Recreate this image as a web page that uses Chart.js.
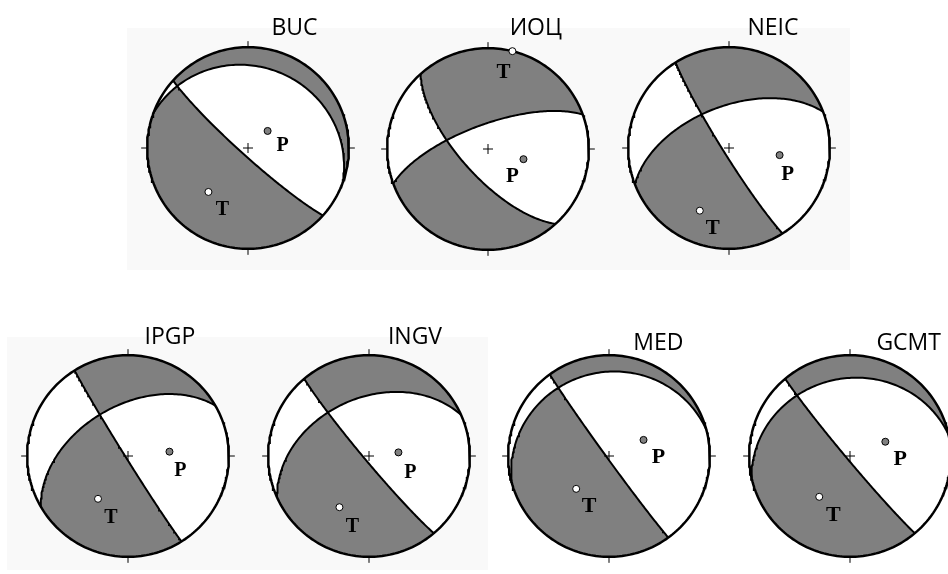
<!DOCTYPE html>
<html>
<head>
<meta charset="utf-8">
<script src="https://cdn.jsdelivr.net/npm/chart.js@4.4.1/dist/chart.umd.min.js"></script>
<style>
  html, body { margin: 0; padding: 0; background: #fff; overflow: hidden; }
  body { width: 948px; height: 574px; position: relative; }
  .panel { position: absolute; background: #f9f9f9; }
  .ball { position: absolute; }
  .title {
    position: absolute; transform: translate(-50%, -50%);
    font-family: "Open Sans", sans-serif; font-size: 23px; line-height: 1;
    color: #000; white-space: nowrap;
  }
</style>
</head>
<body>
<div class="panel" style="left:127px;top:28px;width:723px;height:242px"></div>
<div class="panel" style="left:7px;top:337px;width:481px;height:233px"></div>
<script>
// --- Mécanismes au foyer par agence ---
const agencies = ['BUC', 'ИОЦ', 'NEIC', 'IPGP', 'INGV', 'MED', 'GCMT'];
// plan nodal 1 (raide) et plan nodal 2, azimut / pendage en degrés
const strike1 = [132, 138, 148, 148, 140, 144, 140];
const dip1    = [84, 68, 85, 88, 86, 88, 87];
const strike2 = [290, 250, 249, 240, 246, 255, 258];
const dip2    = [20, 70, 56, 49, 42, 18, 24];
// axes P et T : azimut / plongement
const pTrend  = [49, 106, 98, 84, 83, 65, 68];
const pPlunge = [69, 60, 48, 56, 66, 59, 59];
const tTrend  = [222, 14, 205, 215, 210, 225, 217];
const tPlunge = [41, 0, 32, 47, 41, 52, 48];

// --- Mise en page (centres des sphères, titres, décalage des lettres P/T) ---
const layout = [
  {cx: 248, cy: 148, tx: 294.5, ty: 26,  font: 20, pOff: [15, 13],  tOff: [14, 16]},
  {cx: 488, cy: 149, tx: 535.8, ty: 26,  font: 21, pOff: [-11, 16], tOff: [-9, 20]},
  {cx: 729, cy: 148, tx: 773,   ty: 26,  font: 21, pOff: [8, 18],   tOff: [13, 16]},
  {cx: 128, cy: 456, tx: 170,   ty: 335, font: 20, pOff: [11, 18],  tOff: [13, 18]},
  {cx: 369, cy: 456, tx: 415,   ty: 335, font: 20, pOff: [12, 19],  tOff: [13, 18]},
  {cx: 609, cy: 456, tx: 658.3, ty: 341, font: 22, pOff: [15, 16],  tOff: [13, 16]},
  {cx: 850, cy: 456, tx: 908.7, ty: 341, font: 22, pOff: [15, 16],  tOff: [14, 17]}
];
const SIZE = 242;      // canvas en px
const LIM = 1.2;       // rayon unité = SIZE / (2 * LIM)
const GRAY = '#808080';

// --- Géométrie (hémisphère inférieur, projection équivalente de Schmidt) ---
const rad = d => d * Math.PI / 180;
const dot = (a, b) => a[0] * b[0] + a[1] * b[1] + a[2] * b[2];
const cross = (a, b) => [a[1] * b[2] - a[2] * b[1], a[2] * b[0] - a[0] * b[2], a[0] * b[1] - a[1] * b[0]];

function plane(strike, dip) {
  const s = rad(strike), d = rad(dip);
  const sv = [Math.cos(s), Math.sin(s), 0];
  const dv = [-Math.sin(s) * Math.cos(d), Math.cos(s) * Math.cos(d), Math.sin(d)];
  return {strike, sv, dv, n: cross(sv, dv)};
}

// v = [nord, est, bas]
function project(v) {
  let [n, e, dn] = v;
  if (dn < 0) { n = -n; e = -e; dn = -dn; }
  const h = Math.hypot(n, e);
  if (h < 1e-9) return {x: 0, y: 0};
  const r = Math.sqrt(Math.max(0, 1 - dn));
  return {x: r * e / h, y: r * n / h};
}

function axisPoint(trend, plunge) {
  const t = rad(trend), p = rad(plunge);
  return project([Math.cos(p) * Math.cos(t), Math.cos(p) * Math.sin(t), Math.sin(p)]);
}

function arcPoints(p, t0, t1) {
  const n = Math.max(2, Math.ceil(Math.abs(t1 - t0) / Math.PI * 120));
  const pts = [];
  for (let i = 0; i <= n; i++) {
    const t = t0 + (t1 - t0) * i / n;
    const c = Math.cos(t), s = Math.sin(t);
    pts.push(project([c * p.sv[0] + s * p.dv[0], c * p.sv[1] + s * p.dv[1], c * p.sv[2] + s * p.dv[2]]));
  }
  return pts;
}

function circlePoints(az0, az1) {
  const n = Math.max(2, Math.ceil(Math.abs(az1 - az0) / 1.5));
  const pts = [];
  for (let i = 0; i <= n; i++) {
    const a = rad(az0 + (az1 - az0) * i / n);
    pts.push({x: Math.sin(a), y: Math.cos(a)});
  }
  return pts;
}

// paramètre t sur le plan X où il coupe le plan Y
function crossingT(pX, pY) {
  let t = Math.atan2(-dot(pX.sv, pY.n), dot(pX.dv, pY.n));
  if (t < 0) t += Math.PI;
  return t;
}

function inside(pt, poly) {
  let c = false;
  for (let i = 0, j = poly.length - 1; i < poly.length; j = i++) {
    const a = poly[i], b = poly[j];
    if ((a.y > pt.y) !== (b.y > pt.y) && pt.x < (b.x - a.x) * (pt.y - a.y) / (b.y - a.y) + a.x) c = !c;
  }
  return c;
}

// les 4 quadrants délimités par les deux plans
function quadrants(pA, pB) {
  const tA = crossingT(pA, pB), tB = crossingT(pB, pA);
  const norm = a => ((a % 360) + 360) % 360;
  const ends = [
    {az: norm(pA.strike), p: pA, t: 0, tx: tA},
    {az: norm(pA.strike + 180), p: pA, t: Math.PI, tx: tA},
    {az: norm(pB.strike), p: pB, t: 0, tx: tB},
    {az: norm(pB.strike + 180), p: pB, t: Math.PI, tx: tB}
  ].sort((a, b) => a.az - b.az);
  const regions = [];
  for (let i = 0; i < 4; i++) {
    const e0 = ends[i], e1 = ends[(i + 1) % 4];
    let az1 = e1.az;
    if (az1 <= e0.az) az1 += 360;
    regions.push([
      ...arcPoints(e0.p, e0.tx, e0.t),
      ...circlePoints(e0.az, az1),
      ...arcPoints(e1.p, e1.t, e1.tx)
    ]);
  }
  return regions;
}

// --- Plugin : croix centrale, repères N/E/S/W et lettres P/T ---
const frame = {
  id: 'frame',
  afterDatasetsDraw(chart, args, opts) {
    const {ctx, scales: {x, y}} = chart;
    const cx = x.getPixelForValue(0), cy = y.getPixelForValue(0);
    const r = x.getPixelForValue(1) - cx;
    ctx.save();
    ctx.strokeStyle = '#000';
    ctx.lineWidth = 1;
    ctx.beginPath();
    ctx.moveTo(cx - 5, cy); ctx.lineTo(cx + 5, cy);
    ctx.moveTo(cx, cy - 5); ctx.lineTo(cx, cy + 5);
    ctx.moveTo(cx, cy - r); ctx.lineTo(cx, cy - r - 6);
    ctx.moveTo(cx, cy + r); ctx.lineTo(cx, cy + r + 6);
    ctx.moveTo(cx - r, cy); ctx.lineTo(cx - r - 6, cy);
    ctx.moveTo(cx + r, cy); ctx.lineTo(cx + r + 6, cy);
    ctx.stroke();

    const meta = chart.getDatasetMeta(opts.markerIndex);
    ctx.fillStyle = '#000';
    ctx.font = 'bold ' + opts.font + 'px "Liberation Serif", "Times New Roman", serif';
    ctx.textAlign = 'center';
    ctx.textBaseline = 'alphabetic';
    opts.labels.forEach((lab, i) => {
      const el = meta.data[i];
      const off = opts.offsets[i];
      ctx.fillText(lab, el.x + off[0], el.y + off[1] + opts.font * 0.33);
    });
    ctx.restore();
  }
};

function drawBall(i) {
  const L = layout[i];
  const pA = plane(strike1[i], dip1[i]);
  const pB = plane(strike2[i], dip2[i]);
  const regions = quadrants(pA, pB);
  const P = axisPoint(pTrend[i], pPlunge[i]);
  const T = axisPoint(tTrend[i], tPlunge[i]);

  // quadrant en compression : celui qui ne contient pas P (sinon celui de T)
  let parity = 0;
  const kP = regions.findIndex(r => inside(P, r));
  if (kP >= 0) parity = (kP + 1) % 2;
  else {
    const kT = regions.findIndex(r => inside(T, r));
    if (kT >= 0) parity = kT % 2;
  }

  const datasets = [];
  regions.forEach((pts, k) => datasets.push({
    data: pts, fill: 'shape', backgroundColor: k % 2 === parity ? GRAY : '#fff',
    borderColor: 'transparent', borderWidth: 0, pointRadius: 0, order: 4
  }));
  [pA, pB].forEach(p => datasets.push({
    data: arcPoints(p, 0, Math.PI), fill: false, borderColor: '#000', borderWidth: 2,
    pointRadius: 0, order: 3
  }));
  datasets.push({
    data: circlePoints(0, 360), fill: false, borderColor: '#000', borderWidth: 2.5,
    pointRadius: 0, order: 2
  });
  datasets.push({
    data: [P, T], showLine: false, pointRadius: 3.5, pointBorderWidth: 1,
    pointBackgroundColor: [GRAY, '#fff'], pointBorderColor: '#000', order: 1
  });

  const canvas = document.createElement('canvas');
  canvas.className = 'ball';
  canvas.width = SIZE; canvas.height = SIZE;
  canvas.style.left = (L.cx - SIZE / 2) + 'px';
  canvas.style.top = (L.cy - SIZE / 2) + 'px';
  document.body.appendChild(canvas);

  new Chart(canvas.getContext('2d'), {
    type: 'line',
    data: {datasets},
    options: {
      responsive: false, animation: false, devicePixelRatio: 1, events: [],
      layout: {padding: 0, autoPadding: false},
      elements: {line: {tension: 0}},
      scales: {
        x: {type: 'linear', min: -LIM, max: LIM, display: false},
        y: {type: 'linear', min: -LIM, max: LIM, display: false}
      },
      plugins: {
        legend: {display: false}, tooltip: {enabled: false},
        frame: {markerIndex: datasets.length - 1, labels: ['P', 'T'], offsets: [L.pOff, L.tOff], font: L.font}
      }
    },
    plugins: [frame]
  });

  const title = document.createElement('div');
  title.className = 'title';
  title.textContent = agencies[i];
  title.style.left = L.tx + 'px';
  title.style.top = L.ty + 'px';
  document.body.appendChild(title);
}

agencies.forEach((_, i) => drawBall(i));
</script>
</body>
</html>
